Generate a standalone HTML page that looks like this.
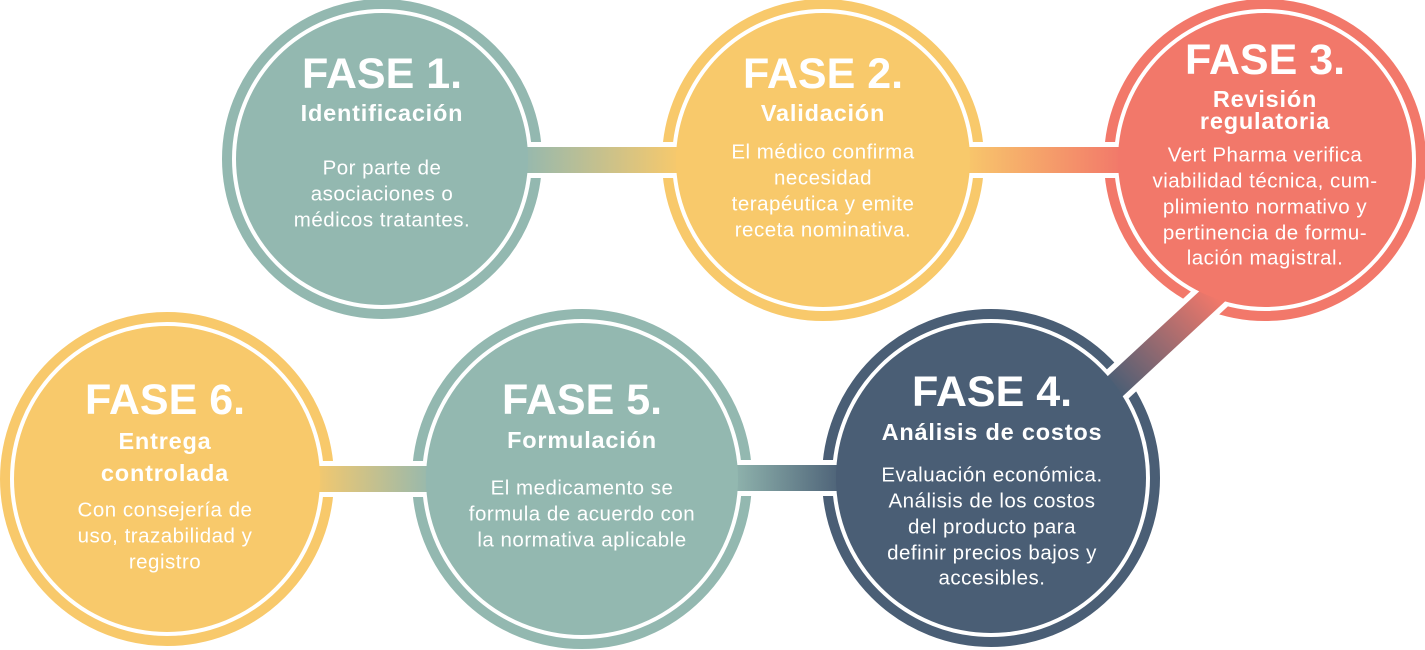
<!DOCTYPE html>
<html><head><meta charset="utf-8"><style>
html,body{margin:0;padding:0;background:#fff;width:1425px;height:650px;overflow:hidden}
text{font-family:"Liberation Sans",sans-serif;fill:#fff;text-anchor:middle;dominant-baseline:central}
.t{font-size:43px;font-weight:bold}
.s{font-size:23.5px;font-weight:bold;letter-spacing:0.8px}
.b{font-size:20.5px;letter-spacing:0.5px}
</style></head><body>
<svg width="1425" height="650" viewBox="0 0 1425 650" xmlns="http://www.w3.org/2000/svg">
<defs>
<linearGradient id="g12" x1="0" x2="1"><stop offset="0" stop-color="#93b8b0"/><stop offset="1" stop-color="#f8c96b"/></linearGradient>
<linearGradient id="g23" x1="0" x2="1"><stop offset="0" stop-color="#f8c96b"/><stop offset="1" stop-color="#f2786a"/></linearGradient>
<linearGradient id="g34" x1="1215" y1="295" x2="1115" y2="390" gradientUnits="userSpaceOnUse"><stop offset="0" stop-color="#f2786a"/><stop offset="1" stop-color="#4a5e75"/></linearGradient>
<linearGradient id="g45" x1="0" x2="1"><stop offset="0" stop-color="#93b8b0"/><stop offset="1" stop-color="#4a5e75"/></linearGradient>
<linearGradient id="g56" x1="0" x2="1"><stop offset="0" stop-color="#f8c96b"/><stop offset="1" stop-color="#93b8b0"/></linearGradient>
</defs>
<g>
<circle cx="382" cy="159" r="155" fill="none" stroke="#93b8b0" stroke-width="10"/>
<circle cx="823" cy="160" r="156" fill="none" stroke="#f8c96b" stroke-width="10"/>
<circle cx="1265" cy="160" r="156" fill="none" stroke="#f2786a" stroke-width="10"/>
<circle cx="167" cy="479" r="162" fill="none" stroke="#f8c96b" stroke-width="10"/>
<circle cx="582" cy="479" r="165" fill="none" stroke="#93b8b0" stroke-width="10"/>
<circle cx="991" cy="478" r="164" fill="none" stroke="#4a5e75" stroke-width="10"/>
</g>
<!-- white cut-outs -->
<rect x="520" y="142" width="160" height="36" fill="#fff"/>
<rect x="962" y="142" width="160" height="36" fill="#fff"/>
<line x1="1232" y1="278" x2="1096" y2="404" stroke="#fff" stroke-width="36"/>
<rect x="310" y="461" width="125" height="36" fill="#fff"/>
<rect x="728" y="460" width="118" height="36" fill="#fff"/>
<!-- connectors -->
<rect x="520" y="147" width="160" height="26" fill="url(#g12)"/>
<rect x="962" y="147" width="160" height="26" fill="url(#g23)"/>
<line x1="1232" y1="278" x2="1096" y2="404" stroke="url(#g34)" stroke-width="25"/>
<rect x="310" y="466" width="125" height="26" fill="url(#g56)"/>
<rect x="728" y="465" width="118" height="26" fill="url(#g45)"/>
<!-- fills -->
<circle cx="382" cy="159" r="146" fill="#93b8b0"/>
<circle cx="823" cy="160" r="147" fill="#f8c96b"/>
<circle cx="1265" cy="160" r="147" fill="#f2786a"/>
<circle cx="167" cy="479" r="153" fill="#f8c96b"/>
<circle cx="582" cy="479" r="156" fill="#93b8b0"/>
<circle cx="991" cy="478" r="155" fill="#4a5e75"/>
<!-- text -->
<text class="t" x="382" y="74">FASE 1.</text>
<text class="s" x="382" y="113">Identificación</text>
<text class="b" x="382" y="168">Por parte de</text>
<text class="b" x="382" y="194">asociaciones o</text>
<text class="b" x="382" y="220">médicos tratantes.</text>

<text class="t" x="823" y="74">FASE 2.</text>
<text class="s" x="823" y="113">Validación</text>
<text class="b" x="823" y="152">El médico confirma</text>
<text class="b" x="823" y="178">necesidad</text>
<text class="b" x="823" y="204">terapéutica y emite</text>
<text class="b" x="823" y="230">receta nominativa.</text>

<text class="t" x="1265" y="60">FASE 3.</text>
<text class="s" x="1265" y="99">Revisión</text>
<text class="s" x="1265" y="121">regulatoria</text>
<text class="b" x="1265" y="155">Vert Pharma verifica</text>
<text class="b" x="1265" y="181">viabilidad técnica, cum-</text>
<text class="b" x="1265" y="207">plimiento normativo y</text>
<text class="b" x="1265" y="233">pertinencia de formu-</text>
<text class="b" x="1265" y="258">lación magistral.</text>

<text class="t" x="992" y="392">FASE 4.</text>
<text class="s" x="992" y="432">Análisis de costos</text>
<text class="b" x="992" y="475">Evaluación económica.</text>
<text class="b" x="992" y="501">Análisis de los costos</text>
<text class="b" x="992" y="527">del producto para</text>
<text class="b" x="992" y="553">definir precios bajos y</text>
<text class="b" x="992" y="578">accesibles.</text>

<text class="t" x="582" y="400">FASE 5.</text>
<text class="s" x="582" y="440">Formulación</text>
<text class="b" x="582" y="488">El medicamento se</text>
<text class="b" x="582" y="514">formula  de acuerdo con</text>
<text class="b" x="582" y="540">la normativa aplicable</text>

<text class="t" x="165" y="400">FASE 6.</text>
<text class="s" x="165" y="441">Entrega</text>
<text class="s" x="165" y="473">controlada</text>
<text class="b" x="165" y="510">Con consejería de</text>
<text class="b" x="165" y="536">uso, trazabilidad y</text>
<text class="b" x="165" y="562">registro</text>
</svg>
</body></html>
